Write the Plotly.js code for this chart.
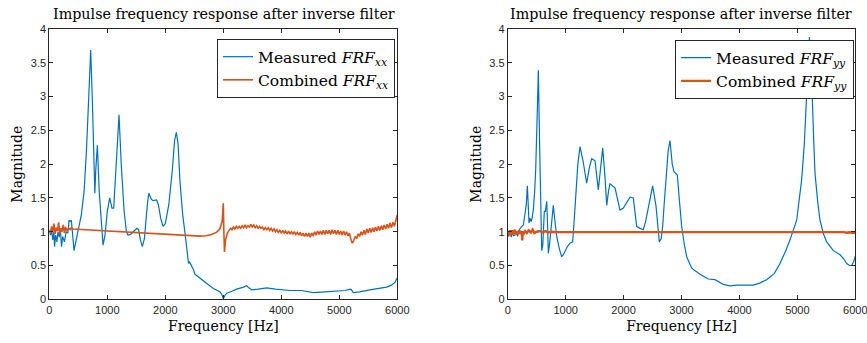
<!DOCTYPE html>
<html>
<head>
<meta charset="utf-8">
<script src="https://cdn.plot.ly/plotly-3.0.1.min.js"></script>
<style>html,body{margin:0;padding:0;background:#fff;}#chart{width:867px;height:343px;}</style>
</head>
<body>
<div id="chart"></div>
<script>
// ---------- Left panel: FRF_xx ----------
const xxMeasFreq = [0,20,40,60,80,90,110,130,150,170,190,210,230,260,290,320,340,360,380,400,426,480,552,600,640,680,713,740,770,785,800,828,860,900,926,960,1000,1041,1080,1110,1150,1202,1240,1290,1330,1357,1400,1450,1510,1540,1570,1604,1640,1690,1714,1760,1788,1850,1880,1920,1960,2000,2060,2120,2160,2190,2220,2253,2300,2340,2375,2400,2420,2440,2480,2512,2570,2655,2750,2828,2900,2943,2975,3000,3030,3058,3150,3230,3350,3403,3440,3489,3600,3748,3900,4150,4350,4552,4750,4955,5100,5184,5210,5241,5350,5529,5700,5817,5900,5960,6000];
const xxMeasMag  = [1.00,0.95,1.02,0.88,1.00,0.78,0.95,0.85,1.00,0.92,1.05,0.78,0.93,0.85,1.00,0.98,1.17,1.15,1.17,0.95,0.72,0.95,1.25,1.60,2.20,3.00,3.69,3.00,1.90,1.57,1.90,2.28,1.60,1.00,0.80,0.95,1.30,1.50,1.35,1.35,1.90,2.73,2.00,1.30,1.00,0.95,0.96,1.00,1.05,1.03,0.88,0.78,0.90,1.40,1.57,1.48,1.46,1.47,1.40,1.20,1.08,1.12,1.40,1.90,2.35,2.47,2.30,1.74,1.25,0.98,0.70,0.53,0.55,0.52,0.45,0.37,0.33,0.27,0.20,0.16,0.13,0.11,0.07,0.01,0.06,0.09,0.12,0.15,0.18,0.20,0.17,0.14,0.15,0.17,0.15,0.13,0.13,0.10,0.11,0.12,0.13,0.15,0.14,0.10,0.11,0.14,0.16,0.18,0.21,0.25,0.32];

const xxCombFreq = [0,20,40,60,80,100,120,140,160,180,200,220,240,260,280,300,320,340,360,380,400,500,800,1200,1600,2000,2400,2600,2700,2800,2880,2940,2980,3000,3010,3020,3040,3070,
  3100,3125,3150,3175,3200,3225,3250,3275,3300,3325,3350,3375,3400,3425,3450,3475,3500,3525,3550,3575,3600,3625,3650,3675,3700,3725,3750,3775,3800,3825,3850,3875,3900,3925,3950,3975,
  4000,4025,4050,4075,4100,4125,4150,4175,4200,4225,4250,4275,4300,4325,4350,4375,4400,4425,4450,4475,4500,4525,4550,4575,4600,4625,4650,4675,4700,4725,4750,4775,4800,4825,4850,4875,4900,4925,4950,4975,
  5000,5025,5050,5075,5100,5125,5150,5175,5200,5225,5250,5275,5300,5325,5350,5375,5400,5425,5450,5475,5500,5525,5550,5575,5600,5625,5650,5675,5700,5725,5750,5775,5800,5825,5850,5875,5900,5925,5950,5975,6000];
const xxCombMag  = [1.03,0.98,1.08,0.99,1.12,0.97,1.06,1.01,1.14,0.96,1.05,1.00,1.10,0.98,1.07,1.02,1.04,1.05,1.03,1.06,1.04,1.035,1.03,1.01,0.99,0.97,0.945,0.935,0.94,0.96,0.99,1.04,1.15,1.42,1.00,0.70,0.88,0.98,
  1.02,1.05,1.03,1.07,1.04,1.08,1.05,1.08,1.05,1.09,1.06,1.10,1.06,1.09,1.07,1.11,1.07,1.10,1.06,1.09,1.05,1.08,1.05,1.07,1.03,1.06,1.03,1.06,1.02,1.05,1.01,1.04,1.00,1.03,0.99,1.02,
  0.98,1.02,0.98,1.01,0.97,1.01,0.97,1.00,0.96,1.00,0.96,0.99,0.95,0.99,0.94,0.98,0.93,0.98,0.93,0.98,0.92,0.98,0.94,1.00,0.95,1.01,0.96,1.01,0.96,1.02,0.96,1.02,0.97,1.02,0.96,1.03,0.97,1.02,0.96,1.02,
  0.96,1.01,0.95,1.01,0.95,1.00,0.94,0.98,0.89,0.83,0.87,0.93,0.90,0.97,0.93,1.00,0.95,1.02,0.96,1.04,0.98,1.05,0.99,1.06,1.00,1.07,1.01,1.08,1.02,1.09,1.03,1.10,1.04,1.11,1.05,1.13,1.06,1.14,1.08,1.17,1.25];

// ---------- Right panel: FRF_yy ----------
const yyMeasFreq = [0,20,40,60,80,100,126,150,170,200,242,270,299,320,339,355,368,385,403,420,442,465,483,505,529,548,564,587,605,632,650,673,688,701,720,760,787,810,846,890,932,960,989,1030,1075,1121,1150,1174,1210,1248,1300,1363,1410,1450,1507,1564,1600,1640,1680,1709,1740,1766,1852,1900,1938,1996,2060,2111,2168,2200,2226,2284,2341,2380,2440,2502,2560,2590,2617,2650,2675,2700,2732,2770,2801,2840,2870,2928,2960,3003,3050,3090,3176,3250,3319,3400,3463,3578,3650,3722,3837,3950,4125,4240,4350,4470,4600,4700,4800,4873,4988,5074,5120,5149,5189,5208,5225,5247,5280,5304,5350,5390,5450,5506,5621,5736,5800,5851,5900,5937,5970,6000];
const yyMeasMag  = [0.98,0.93,1.02,0.92,0.99,0.94,0.95,1.00,0.93,1.03,1.08,1.10,1.27,1.40,1.68,1.30,1.13,1.20,1.15,1.20,1.32,1.60,1.92,2.60,3.39,2.40,1.57,0.72,0.80,1.30,1.30,1.45,1.10,0.68,0.80,1.20,1.39,1.20,0.93,0.75,0.63,0.66,0.72,0.78,0.83,0.85,1.20,1.57,2.00,2.26,2.05,1.72,1.95,2.08,2.05,1.62,1.90,2.24,1.80,1.39,1.60,1.71,1.65,1.45,1.32,1.35,1.45,1.51,1.50,1.30,1.08,1.05,1.03,1.15,1.40,1.68,1.38,1.05,0.85,0.90,1.08,1.40,1.82,2.20,2.35,2.00,1.89,1.84,1.50,1.08,0.80,0.63,0.46,0.41,0.37,0.33,0.30,0.29,0.25,0.22,0.20,0.21,0.21,0.21,0.24,0.29,0.38,0.53,0.72,0.88,1.17,1.77,2.30,2.76,3.40,3.88,3.60,3.25,2.40,1.87,1.45,1.17,0.97,0.85,0.72,0.66,0.60,0.53,0.50,0.50,0.55,0.64];

const yyCombFreq = [0,20,40,60,80,100,120,140,160,180,200,220,240,250,260,280,300,330,360,400,430,460,500,560,600,650,700,750,800,1000,1500,2000,2500,3000,3500,3600,3700,3800,3900,4000,4100,4200,4300,4400,4500,4600,4700,4800,4900,5000,5100,5200,5300,5400,5500,5600,5700,5750,5800,5850,5900,5950,6000];
const yyCombMag  = [1.00,0.96,1.02,0.95,1.02,0.97,1.03,0.96,1.01,0.97,1.02,0.97,1.01,0.87,1.00,0.98,1.01,0.98,1.02,0.99,1.03,0.98,1.00,1.01,0.99,1.01,0.99,1.00,0.995,0.995,0.997,0.995,0.996,0.995,0.996,0.994,0.997,0.994,0.998,0.994,0.997,0.994,0.998,0.994,0.997,0.994,0.998,0.994,0.997,0.994,0.998,0.994,0.997,0.994,0.996,0.992,0.995,0.990,0.994,0.986,0.992,0.984,0.985];

const xTicks = [0,1000,2000,3000,4000,5000,6000];
const yTicks = [0,0.5,1,1.5,2,2.5,3,3.5,4];
const yTickText = ['0','0.5','1','1.5','2','2.5','3','3.5','4'];

const titleText = 'Impulse frequency response after inverse filter';
const legendLabels = {
  measXX: 'Measured <i>FRF</i><sub><i>xx</i></sub>',
  combXX: 'Combined <i>FRF</i><sub><i>xx</i></sub>',
  measYY: 'Measured <i>FRF</i><sub><i>yy</i></sub>',
  combYY: 'Combined <i>FRF</i><sub><i>yy</i></sub>'
};

const BLUE = '#0072BD', ORANGE = '#D95319', AX = '#262626';
const SERIF = '"DejaVu Serif", "Liberation Serif", serif';
const SANS = '"Liberation Sans", Arial, sans-serif';

const traces = [
  {x: xxMeasFreq, y: xxMeasMag, type:'scatter', mode:'lines', name: legendLabels.measXX, line:{color:BLUE, width:1.2}, xaxis:'x', yaxis:'y', legend:'legend'},
  {x: xxCombFreq, y: xxCombMag, type:'scatter', mode:'lines', name: legendLabels.combXX, line:{color:ORANGE, width:1.6}, xaxis:'x', yaxis:'y', legend:'legend'},
  {x: yyMeasFreq, y: yyMeasMag, type:'scatter', mode:'lines', name: legendLabels.measYY, line:{color:BLUE, width:1.2}, xaxis:'x2', yaxis:'y2', legend:'legend2'},
  {x: yyCombFreq, y: yyCombMag, type:'scatter', mode:'lines', name: legendLabels.combYY, line:{color:ORANGE, width:2.4}, xaxis:'x2', yaxis:'y2', legend:'legend2'}
];

function xaxisDef(domain, anchor){
  return {domain: domain, anchor: anchor, range:[0,6000], tickvals: xTicks, ticktext: xTicks.map(String),
    ticks:'inside', ticklen:4, tickcolor:AX, showline:true, linecolor:AX, linewidth:1, mirror:'ticks',
    ticklabeloverflow:'allow', automargin:false,
    showgrid:false, zeroline:false, tickfont:{family:SANS, size:11, color:AX},
    title:{text:'Frequency [Hz]', font:{family:SERIF, size:14, color:'#000'}, standoff:6}};
}
function yaxisDef(anchor){
  return {domain:[0.1274,0.9155], anchor: anchor, range:[0,4], tickvals: yTicks, ticktext: yTickText,
    ticks:'inside', ticklen:4, tickcolor:AX, showline:true, linecolor:AX, linewidth:1, mirror:'ticks',
    automargin:false,
    showgrid:false, zeroline:false, tickfont:{family:SANS, size:11, color:AX},
    title:{text:'Magnitude', font:{family:SERIF, size:14, color:'#000'}, standoff:4}};
}

const legendBase = {bgcolor:'#ffffff', bordercolor:AX, borderwidth:1, font:{family:SERIF, size:15.5, color:'#000'},
  xanchor:'right', yanchor:'top', xref:'paper', yref:'paper', tracegroupgap:0, itemwidth:30};

const layout = {
  width:867, height:343, margin:{l:0,r:0,t:0,b:0}, paper_bgcolor:'#fff', plot_bgcolor:'#fff',
  showlegend:true,
  xaxis: xaxisDef([0.0569,0.4582],'y'),
  yaxis: yaxisDef('x'),
  xaxis2: xaxisDef([0.5856,0.9865],'y2'),
  yaxis2: yaxisDef('x2'),
  legend: Object.assign({}, legendBase, {x:0.4556, y:0.886}),
  legend2: Object.assign({}, legendBase, {x:0.9851, y:0.883}),
  annotations: [
    {text:titleText, xref:'paper', yref:'paper', x:224/867, y:(343-14)/343, xanchor:'center', yanchor:'middle', showarrow:false, font:{family:SERIF, size:14.3, color:'#000'}},
    {text:titleText, xref:'paper', yref:'paper', x:681/867, y:(343-14)/343, xanchor:'center', yanchor:'middle', showarrow:false, font:{family:SERIF, size:14.3, color:'#000'}}
  ]
};

Plotly.newPlot('chart', traces, layout, {displayModeBar:false, staticPlot:true});
</script>
</body>
</html>
